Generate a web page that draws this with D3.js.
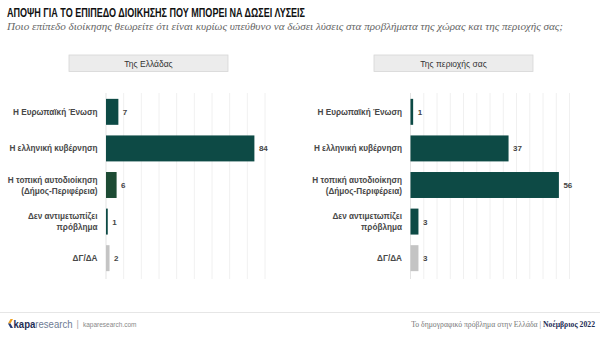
<!DOCTYPE html>
<html>
<head>
<meta charset="utf-8">
<script src="https://cdn.jsdelivr.net/npm/d3@7"></script>
<style>
  html, body { margin: 0; padding: 0; background: #ffffff; }
  svg { display: block; }
</style>
</head>
<body>
<svg id="chart" width="600" height="338"></svg>
<script>
// Response categories (rows, top to bottom)
const categories = [
  ["Η Ευρωπαϊκή Ένωση"],
  ["Η ελληνική κυβέρνηση"],
  ["Η τοπική αυτοδιοίκηση", "(Δήμος-Περιφέρεια)"],
  ["Δεν αντιμετωπίζει", "πρόβλημα"],
  ["ΔΓ/ΔΑ"]
];
const panelTitles = ["Της Ελλάδας", "Της περιοχής σας"];
const greeceValues = [7, 84, 6, 1, 2];
const regionValues = [1, 37, 56, 3, 3];
const greeceColors = ["#0d4a45", "#0d4a45", "#1d4b34", "#0d4a45", "#c4c4c4"];
const regionColors = ["#0d4a45", "#0d4a45", "#0d4a45", "#0d4a45", "#c4c4c4"];

const title = "ΑΠΟΨΗ ΓΙΑ ΤΟ ΕΠΙΠΕΔΟ ΔΙΟΙΚΗΣΗΣ ΠΟΥ ΜΠΟΡΕΙ ΝΑ ΔΩΣΕΙ ΛΥΣΕΙΣ";
const subtitle = "Ποιο επίπεδο διοίκησης θεωρείτε ότι είναι κυρίως υπεύθυνο να δώσει λύσεις στα προβλήματα της χώρας και της περιοχής σας;";
const footerNote = "Το δημογραφικό πρόβλημα στην Ελλάδα | ";
const footerDate = "Νοέμβριος 2022";

const svg = d3.select("#chart");
const sans = "'Liberation Sans', Arial, sans-serif";
const serif = "'Liberation Serif', 'Times New Roman', serif";

// Title (condensed bold) and subtitle
svg.append("text")
  .attr("x", 7).attr("y", 17)
  .attr("font-family", sans)
  .attr("font-weight", "bold").attr("font-size", 12.5)
  .attr("textLength", 298).attr("lengthAdjust", "spacingAndGlyphs")
  .attr("fill", "#111")
  .text(title);
svg.append("text")
  .attr("x", 7).attr("y", 30)
  .attr("font-family", serif)
  .attr("font-style", "italic").attr("font-size", 10.5)
  .attr("textLength", 556).attr("lengthAdjust", "spacingAndGlyphs")
  .attr("fill", "#666")
  .text(subtitle);

const y = d3.scaleBand()
  .domain(d3.range(categories.length))
  .range([93, 277])
  .paddingInner(0.29)
  .paddingOuter(0.16);

function drawPanel(cfg) {
  const g = svg.append("g");
  const x = d3.scaleLinear()
    .domain([0, d3.max(cfg.values)]).nice()
    .range([cfg.x0, cfg.x0 + 159]);

  // Header box
  g.append("rect")
    .attr("x", cfg.boxX).attr("y", 55)
    .attr("width", 159).attr("height", 16.5)
    .attr("fill", "#ececec").attr("stroke", "#d6d6d6").attr("stroke-width", 0.8);
  g.append("text")
    .attr("x", cfg.boxX + 79.5).attr("y", 66.5)
    .attr("text-anchor", "middle")
    .attr("font-family", sans).attr("font-size", 8.5)
    .attr("fill", "#333")
    .text(cfg.title);

  // Vertical gridlines
  const ticks = x.ticks(10).filter(t => t > 0);
  g.append("g").selectAll("line")
    .data(ticks).join("line")
    .attr("x1", d => x(d)).attr("x2", d => x(d))
    .attr("y1", 93).attr("y2", 279)
    .attr("stroke", "#ececec").attr("stroke-width", 0.8);
  // Baseline
  g.append("line")
    .attr("x1", x(0)).attr("x2", x(0))
    .attr("y1", 93).attr("y2", 279)
    .attr("stroke", "#dcdcdc").attr("stroke-width", 0.8);

  // Bars
  g.append("g").selectAll("rect")
    .data(cfg.values).join("rect")
    .attr("x", x(0))
    .attr("y", (d, i) => y(i))
    .attr("width", d => x(d) - x(0))
    .attr("height", y.bandwidth())
    .attr("fill", (d, i) => cfg.colors[i]);

  // Value labels
  g.append("g").selectAll("text")
    .data(cfg.values).join("text")
    .attr("x", d => x(d) + 4.5)
    .attr("y", (d, i) => y(i) + y.bandwidth() / 2 + 3)
    .attr("font-family", sans).attr("font-size", 8).attr("font-weight", "bold")
    .attr("fill", "#444")
    .text(d => d);

  // Category labels
  const lbl = g.append("g").selectAll("text")
    .data(categories).join("text")
    .attr("text-anchor", "end")
    .attr("font-family", sans).attr("font-size", 8.2).attr("font-weight", "bold")
    .attr("fill", "#484848")
    .attr("y", (d, i) => y(i) + y.bandwidth() / 2 + 3 - (d.length - 1) * 5.5);
  lbl.selectAll("tspan")
    .data(d => d).join("tspan")
    .attr("x", cfg.x0 - 8.5)
    .attr("dy", (d, i) => i === 0 ? 0 : 11)
    .text(d => d);
}

drawPanel({ x0: 106, boxX: 69, title: panelTitles[0], values: greeceValues, colors: greeceColors });
drawPanel({ x0: 410.5, boxX: 374, title: panelTitles[1], values: regionValues, colors: regionColors });

// Footer
svg.append("line")
  .attr("x1", 0).attr("x2", 600)
  .attr("y1", 312.5).attr("y2", 312.5)
  .attr("stroke", "#e6e6e6").attr("stroke-width", 1);

const logo = svg.append("g");
logo.append("path")
  .attr("d", "M10.5,319 L13,319 L10.5,323.5 L8,323.5 Z")
  .attr("fill", "#f0a020");
logo.append("path")
  .attr("d", "M8,323.5 L10.5,323.5 L13,328 L10.5,328 Z")
  .attr("fill", "#243b78");
const logoText = logo.append("text")
  .attr("x", 13.5).attr("y", 327.5)
  .attr("font-family", sans).attr("font-size", 10)
  .attr("textLength", 59).attr("lengthAdjust", "spacingAndGlyphs");
logoText.append("tspan").attr("font-weight", "bold").attr("fill", "#1e2d55").text("kapa");
logoText.append("tspan").attr("fill", "#6d7b93").text("research");
svg.append("text")
  .attr("x", 76.5).attr("y", 327)
  .attr("font-family", sans).attr("font-size", 9).attr("fill", "#aaa")
  .text("|");
svg.append("text")
  .attr("x", 83).attr("y", 326.5)
  .attr("font-family", sans).attr("font-size", 6.5).attr("fill", "#888")
  .text("kaparesearch.com");

const foot = svg.append("text")
  .attr("x", 595).attr("y", 327)
  .attr("text-anchor", "end")
  .attr("font-family", serif).attr("font-size", 7.7);
foot.append("tspan").attr("fill", "#777").text(footerNote);
foot.append("tspan").attr("fill", "#1e2d55").attr("font-weight", "bold").text(footerDate);
</script>
</body>
</html>
